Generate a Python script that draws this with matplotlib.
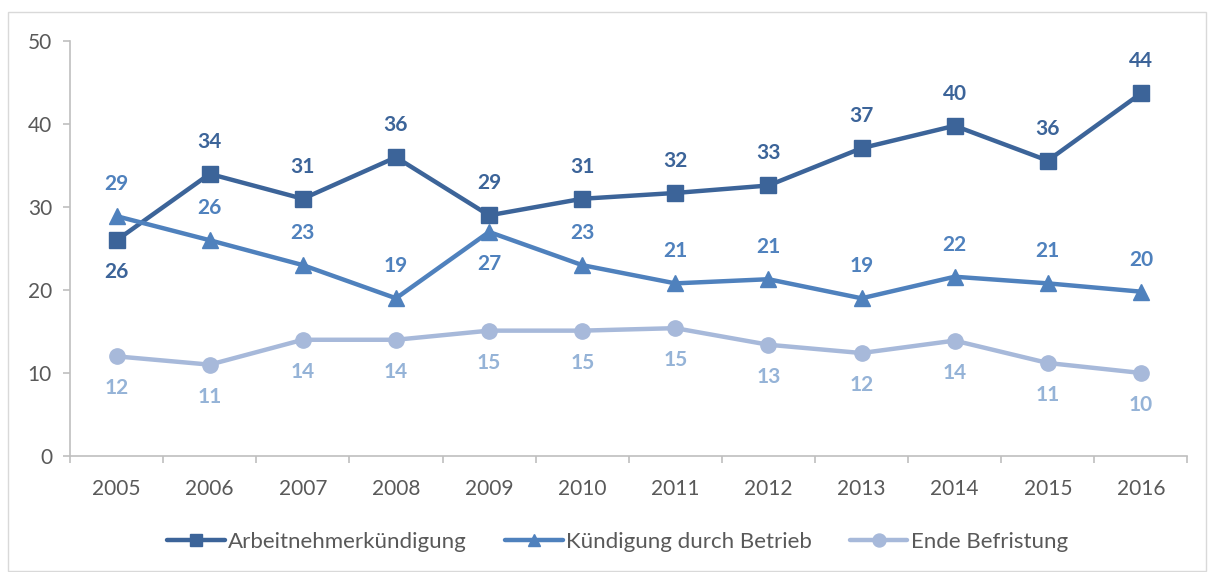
import matplotlib
matplotlib.use("Agg")
import matplotlib.pyplot as plt
from matplotlib.patches import Rectangle

plt.rcParams["font.family"] = ["Lato", "DejaVu Sans"]

years = ["2005", "2006", "2007", "2008", "2009", "2010",
         "2011", "2012", "2013", "2014", "2015", "2016"]
arbeitnehmer = [26.0, 34.0, 31.0, 36.0, 29.0, 31.0, 31.7, 32.6, 37.1, 39.8, 35.6, 43.7]
betrieb = [28.9, 26.0, 23.0, 19.0, 27.0, 23.0, 20.8, 21.3, 19.0, 21.6, 20.8, 19.8]
befristung = [12.0, 11.0, 14.0, 14.0, 15.1, 15.1, 15.4, 13.4, 12.4, 13.9, 11.2, 10.0]

# label above (+1) or below (-1) the point
arbeit_pos = [-1, 1, 1, 1, 1, 1, 1, 1, 1, 1, 1, 1]
betrieb_pos = [1, 1, 1, 1, -1, 1, 1, 1, 1, 1, 1, 1]
befrist_pos = [-1] * 12

C_ARB = "#3C6499"
C_BET = "#4F81BD"
C_BEF = "#A7B9DA"
C_BEF_TXT = "#95B3D7"
GRAY = "#BFBFBF"
TXT = "#595959"

fig = plt.figure(figsize=(12.08, 5.72), dpi=100)
ax = fig.add_axes([0.058, 0.203, 0.925, 0.725])

x = list(range(len(years)))
series = [
    (arbeitnehmer, arbeit_pos, C_ARB, C_ARB, "s", 11, "Arbeitnehmerkündigung"),
    (betrieb, betrieb_pos, C_BET, C_BET, "^", 11, "Kündigung durch Betrieb"),
    (befristung, befrist_pos, C_BEF, C_BEF_TXT, "o", 11, "Ende Befristung"),
]
for vals, pos, col, tcol, mk, ms, name in series:
    ax.plot(x, vals, color=col, lw=3.2, marker=mk, ms=ms, label=name,
            solid_joinstyle="round", solid_capstyle="round")
    for xi, v, p in zip(x, vals, pos):
        ax.annotate(f"{round(v):d}", (xi, v), xytext=(0, 32 * p),
                    textcoords="offset pixels", ha="center", va="center",
                    fontsize=15, fontweight="bold", color=tcol)

ax.set_xlim(-0.5, len(years) - 0.5)
ax.set_ylim(0, 50)
ax.set_yticks(range(0, 51, 10))
ax.set_xticks(x)
ax.set_xticklabels(years)
ax.set_xticks([i - 0.5 for i in range(len(years) + 1)], minor=True)
ax.tick_params(axis="x", which="major", length=0, pad=17, labelsize=15, labelcolor=TXT)
ax.tick_params(axis="x", which="minor", length=5, color=GRAY, width=1.2)
ax.tick_params(axis="y", length=5, color=GRAY, width=1.2, labelsize=15,
               labelcolor=TXT, pad=8)
for side in ["top", "right"]:
    ax.spines[side].set_visible(False)
for side in ["left", "bottom"]:
    ax.spines[side].set_color(GRAY)
    ax.spines[side].set_linewidth(1.2)

ax.legend(loc="center", bbox_to_anchor=(0.49, -0.207), ncol=3, frameon=False,
          fontsize=16, labelcolor=TXT, handlelength=2.6, handletextpad=0.15,
          columnspacing=1.7, markerscale=0.85)

fig.patches.append(Rectangle((8 / 1208, 1 / 572), 1198 / 1208, 559 / 572,
                             transform=fig.transFigure, fill=False,
                             edgecolor="#D9D9D9", lw=1))

fig.savefig("out.png", dpi=100)
